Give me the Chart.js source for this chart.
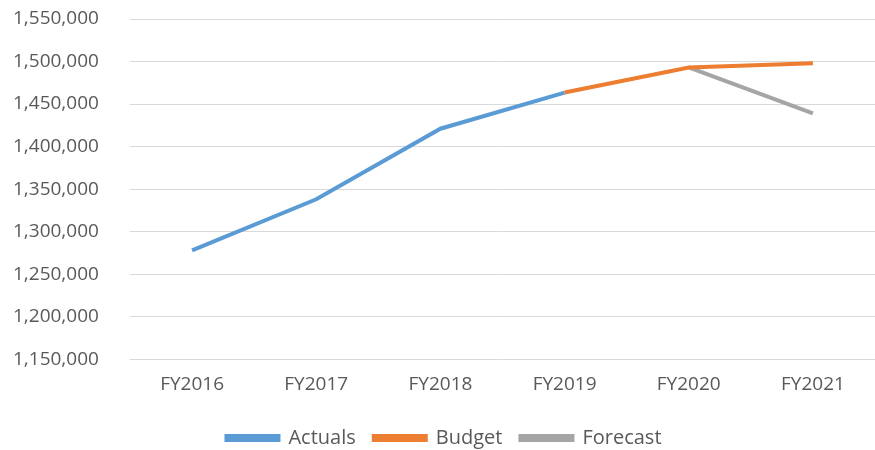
<!DOCTYPE html>
<html>
<head>
<meta charset="utf-8">
<script src="https://cdn.jsdelivr.net/npm/chart.js@4.4.0/dist/chart.umd.min.js"></script>
<style>
  html, body { margin: 0; padding: 0; background: #fff; }
  #wrap { width: 875px; height: 450px; position: relative; }
</style>
</head>
<body>
<div id="wrap"><canvas id="myChart"></canvas></div>
<script>
// Données
const annees = ['FY2016', 'FY2017', 'FY2018', 'FY2019', 'FY2020', 'FY2021'];
const actuals = [1278000, 1338000, 1421000, 1463500, null, null];
const budget = [null, null, null, 1463500, 1493000, 1498000];
const forecast = [null, null, null, null, 1493000, 1439000];
const yMin = 1150000;
const yMax = 1550000;
const yPas = 50000;

const gris = '#595959';
const police = { family: '"Open Sans", "Liberation Sans", sans-serif', size: 19 };

function serie(label, data, couleur) {
  return {
    label: label,
    data: data,
    borderColor: couleur,
    backgroundColor: couleur,
    borderWidth: 4,
    pointRadius: 0,
    pointHoverRadius: 0,
    fill: false,
    tension: 0,
    spanGaps: false,
    borderCapStyle: 'butt'
  };
}

const ctx = document.getElementById('myChart').getContext('2d');
new Chart(ctx, {
  type: 'line',
  data: {
    labels: annees,
    datasets: [
      serie('Actuals', actuals, '#5B9BD5'),
      serie('Budget', budget, '#ED7D31'),
      serie('Forecast', forecast, '#A5A5A5')
    ]
  },
  options: {
    responsive: true,
    maintainAspectRatio: false,
    animation: false,
    layout: { padding: { left: 13, right: 0, top: 19, bottom: -8 } },
    plugins: {
      tooltip: { enabled: false },
      legend: {
        position: 'bottom',
        labels: {
          color: gris,
          font: { family: police.family, size: 20 },
          boxWidth: 52,
          boxHeight: 4,
          padding: 18
        }
      }
    },
    scales: {
      x: {
        offset: true,
        grid: { display: false, drawTicks: false },
        border: { display: false },
        ticks: { color: gris, font: police, padding: 14 }
      },
      y: {
        min: yMin,
        max: yMax,
        grid: { color: '#D9D9D9', lineWidth: 1, drawTicks: false },
        border: { display: false },
        afterFit: (echelle) => { echelle.width = 117; },
        ticks: {
          stepSize: yPas,
          color: gris,
          font: police,
          padding: 0,
          crossAlign: 'far',
          callback: v => v.toLocaleString('en-US')
        }
      }
    }
  }
});
</script>
</body>
</html>
